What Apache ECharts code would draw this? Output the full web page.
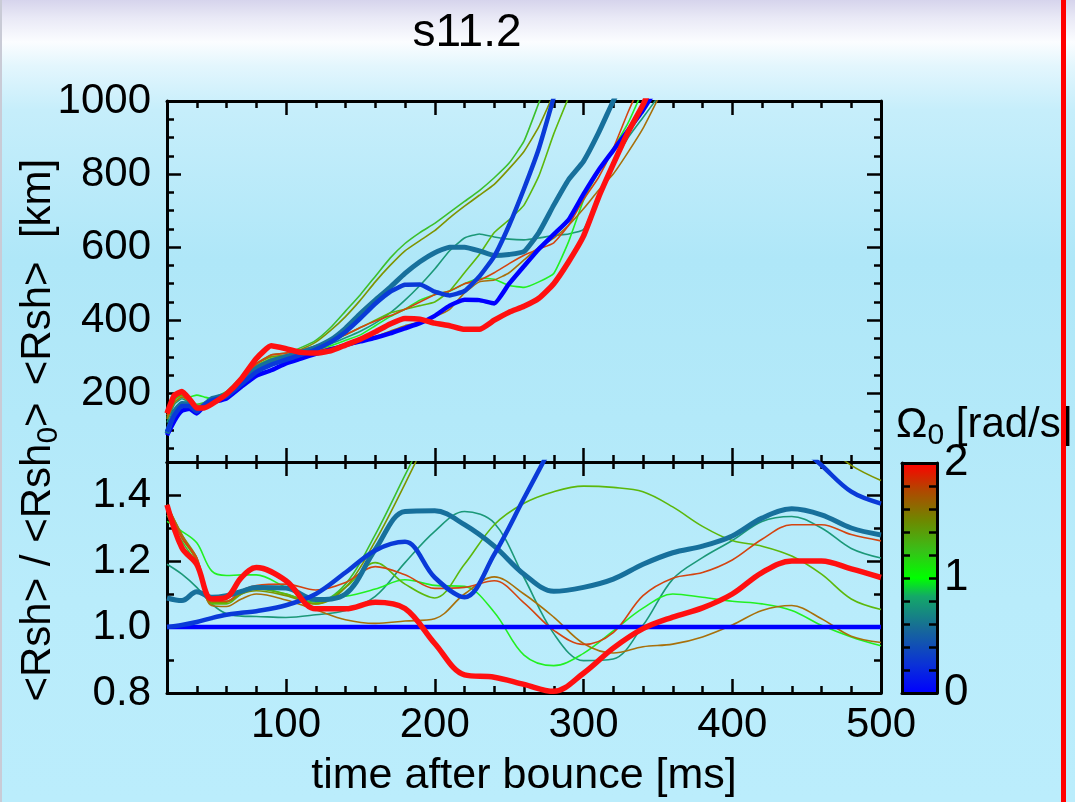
<!DOCTYPE html>
<html><head><meta charset="utf-8">
<script src="https://cdn.jsdelivr.net/npm/echarts@6/dist/echarts.min.js"></script>
<style>
html,body{margin:0;padding:0;}
#c{width:1075px;height:802px;background:linear-gradient(to bottom,#d6d4ec 0px,#e9e9f6 18px,#fbfdff 42px,#e3f6fd 66px,#c6eefb 110px,#afe7f8 260px,#b3e9f9 420px,#b9ecfb 600px,#bbedfc 802px);}
</style></head><body><div id="c"></div>
<script>
// ---------- data ----------
const T_TOP = [20,25,30,35,40,45,50,60,70,80,90,100,110,120,130,140,150,160,170,180,190,200,210,220,230,240,250,260,270,280,290,300,310,320,330,340,350,360];
const RSH_BLUE    = [85,125,152,158,145,165,175,186,218,248,263,282,295,308,320,332,342,352,364,378,392,412,440,456,455,446,500,548,595,635,675,745,810,865,920,975,1040,null];
const RSH_DKBLUE  = [95,140,165,165,150,168,180,192,225,258,278,292,305,320,340,368,405,445,478,497,498,478,468,480,520,575,660,760,870,1010,null,null,null,null,null,null,null,null];
const RSH_TEAL    = [90,150,172,170,155,168,185,196,232,268,288,300,312,326,346,378,418,455,490,528,560,585,600,600,590,577,580,588,640,715,785,835,912,1000,1080,null,null,null];
const RSH_TEALGRN = [120,170,185,175,160,170,182,195,235,275,290,290,305,320,335,352,370,392,420,455,495,540,590,625,636,628,622,620,625,632,636,648,738,828,900,955,1010,null];
const RSH_GREEN   = [130,180,195,190,195,190,185,200,240,280,300,300,310,318,330,345,360,385,410,430,455,470,480,500,515,512,495,490,505,528,615,728,805,870,940,1030,null,null];
const RSH_GREEN2  = [135,185,200,188,170,175,185,205,245,282,305,310,325,345,380,425,470,520,570,610,640,665,695,725,755,790,830,890,995,1100,null,null,null,null,null,null,null,null];
const RSH_YLWGRN  = [140,175,190,180,165,170,180,198,238,275,295,300,310,325,340,360,380,400,420,430,440,450,480,530,580,640,675,715,795,910,1010,null,null,null,null,null,null,null];
const RSH_OLIVE   = [150,185,195,180,162,170,182,200,240,280,300,305,320,340,372,410,455,505,550,590,618,645,680,712,742,772,815,862,930,1020,null,null,null,null,null,null,null,null];
const RSH_BROWN   = [130,175,190,178,160,165,178,195,235,270,290,295,305,315,325,330,340,355,370,385,395,410,430,475,505,510,530,565,600,625,660,705,755,800,860,925,1005,null];
const RSH_ORANGE  = [140,185,200,182,160,165,178,196,238,280,305,310,318,330,345,360,380,398,412,430,450,470,480,500,510,530,555,578,595,612,660,730,790,870,970,1060,null,null];
const RSH_RED     = [145,195,205,185,160,160,170,198,240,295,330,322,312,310,316,332,348,368,390,405,403,392,385,375,375,400,422,438,460,500,560,630,735,827,915,990,1080,null];

const T_BOT = [20,30,40,50,60,70,80,100,120,140,160,180,200,220,240,260,280,300,320,340,360,380,400,420,440,460,480,500];
const RAT_BLUE    = [1,1,1,1,1,1,1,1,1,1,1,1,1,1,1,1,1,1,1,1,1,1,1,1,1,1,1,1];
const RAT_DKBLUE  = [1.0,1.006,1.015,1.027,1.037,1.043,1.048,1.066,1.10,1.165,1.232,1.258,1.15,1.09,1.22,1.39,1.56,null,null,null,null,null,null,null,1.57,1.49,1.41,1.374];
const RAT_TEAL    = [1.088,1.08,1.107,1.09,1.095,1.108,1.12,1.118,1.083,1.10,1.235,1.35,1.352,1.31,1.245,1.16,1.108,1.12,1.145,1.19,1.225,1.245,1.276,1.33,1.358,1.34,1.30,1.279];
const RAT_TEALGRN = [1.19,1.16,1.12,1.07,1.04,1.033,1.032,1.029,1.037,1.05,1.093,1.195,1.29,1.35,1.315,1.15,0.98,0.898,0.903,1.005,1.145,1.21,1.262,1.32,1.335,1.30,1.238,1.209];
const RAT_GREEN   = [1.32,1.29,1.255,1.17,1.156,1.158,1.158,1.12,1.087,1.093,1.115,1.143,1.126,1.123,1.045,0.915,0.883,0.92,0.988,1.057,1.10,1.09,1.078,1.07,1.05,1.005,0.97,0.943];
const RAT_GREEN2  = [1.34,1.26,1.19,1.08,1.078,1.105,1.118,1.10,1.075,1.13,1.28,1.46,1.64,null,null,null,null,null,null,null,null,null,null,null,null,null,null,null];
const RAT_YLWGRN  = [1.36,1.27,1.20,1.07,1.07,1.10,1.115,1.10,1.07,1.12,1.195,1.13,1.088,1.19,1.31,1.375,1.41,1.427,1.423,1.41,1.364,1.305,1.262,1.245,1.215,1.16,1.085,1.053];
const RAT_OLIVE   = [1.37,1.28,1.21,1.075,1.075,1.10,1.11,1.095,1.07,1.12,1.26,1.434,1.62,null,null,null,null,null,null,null,null,null,null,null,null,1.56,1.49,1.444];
const RAT_BROWN   = [1.37,1.28,1.20,1.065,1.062,1.085,1.10,1.082,1.052,1.022,1.011,1.018,1.025,1.10,1.152,1.10,1.03,0.95,0.921,0.94,0.948,0.97,1.006,1.05,1.065,1.025,0.972,0.953];
const RAT_ORANGE  = [1.37,1.27,1.21,1.08,1.078,1.11,1.126,1.13,1.112,1.135,1.183,1.158,1.117,1.12,1.14,1.073,0.99,0.947,0.983,1.095,1.148,1.165,1.203,1.266,1.31,1.31,1.28,1.261];
const RAT_RED     = [1.37,1.24,1.19,1.085,1.09,1.15,1.18,1.14,1.055,1.055,1.075,1.056,0.95,0.855,0.848,0.826,0.805,0.86,0.936,0.995,1.03,1.058,1.10,1.165,1.20,1.20,1.176,1.15];

const X_TICK_LABELS = [100,200,300,400,500];
const Y_TOP_LABELS = [200,400,600,800,1000];
const Y_BOT_LABELS = [0.8,1.0,1.2,1.4];
const CBAR_LABELS = [0,1,2];

// ---------- styling ----------
const REG = "'Liberation Sans',Arial,Helvetica,sans-serif";
const BLACK = '#000';

const LINES = [
  {name:'Ω0=0.8', top:RSH_TEALGRN, bot:RAT_TEALGRN, color:'#1b9878', w:1.6},
  {name:'Ω0=1.0', top:RSH_GREEN,   bot:RAT_GREEN,   color:'#22f022', w:1.6},
  {name:'Ω0=1.1', top:RSH_GREEN2,  bot:RAT_GREEN2,  color:'#3cbf2c', w:1.6},
  {name:'Ω0=1.2', top:RSH_YLWGRN,  bot:RAT_YLWGRN,  color:'#5cb80c', w:1.6},
  {name:'Ω0=1.4', top:RSH_OLIVE,   bot:RAT_OLIVE,   color:'#7f9400', w:1.6},
  {name:'Ω0=1.6', top:RSH_BROWN,   bot:RAT_BROWN,   color:'#a8700a', w:1.6},
  {name:'Ω0=1.8', top:RSH_ORANGE,  bot:RAT_ORANGE,  color:'#d44410', w:1.6},
  {name:'Ω0=0',   top:RSH_BLUE,    bot:RAT_BLUE,    color:'#0000ff', w:4.5},
  {name:'Ω0=0.5', top:RSH_TEAL,    bot:RAT_TEAL,    color:'#17709c', w:5},
  {name:'Ω0=0.1', top:RSH_DKBLUE,  bot:RAT_DKBLUE,  color:'#0a3ad8', w:4.5},
  {name:'Ω0=2.0', top:RSH_RED,     bot:RAT_RED,     color:'#ff1010', w:5.5}
];

const pairs = (T, V) => T.map((t, i) => [t, V[i]]);

const X_CATS = []; for (let v = 20; v <= 500; v += 20) X_CATS.push(String(v));
const Y_TOP_CATS = []; for (let v = 12; v <= 1000; v += 2) Y_TOP_CATS.push(String(v));

const lineStyleAxis = {lineStyle:{color:BLACK, width:3}};
const noLine = {show:false};
const tick = (len) => ({show:true, inside:true, length:len, lineStyle:{color:BLACK, width:2.5}});

function xVal(grid, pos){
  return {type:'value', gridIndex:grid, position:pos, min:20, max:500, interval:20,
    axisLine:Object.assign({show:true, onZero:false}, lineStyleAxis), axisTick:tick(7),
    axisLabel:{show:false}, splitLine:{show:false}};
}
function xCat(grid, pos, labels){
  return {type:'category', gridIndex:grid, position:pos, data:X_CATS, boundaryGap:false,
    axisLine:noLine,
    axisTick:Object.assign(tick(14), {interval:(i, v) => X_TICK_LABELS.indexOf(+v) >= 0}),
    axisLabel:{show:labels, interval:(i, v) => X_TICK_LABELS.indexOf(+v) >= 0,
      fontFamily:REG, fontSize:42, color:BLACK, margin:11},
    splitLine:{show:false}};
}
function yTopCat(pos, major, labels){
  return {type:'category', gridIndex:0, position:pos, data:Y_TOP_CATS, boundaryGap:false,
    axisLine:noLine,
    axisTick:Object.assign(tick(major ? 14 : 7), {interval:(i, v) => major ? (+v % 200 === 0) : (+v % 50 === 0)}),
    axisLabel:{show:labels, interval:(i, v) => Y_TOP_LABELS.indexOf(+v) >= 0,
      fontFamily:REG, fontSize:42, color:BLACK, margin:16},
    splitLine:{show:false}};
}
function yBot(pos, major, labels){
  return {type:'value', gridIndex:1, position:pos, min:0.8, max:1.5, interval: major ? 0.2 : 0.1,
    axisLine: major ? noLine : Object.assign({show:true, onZero:false}, lineStyleAxis),
    axisTick: tick(major ? 14 : 7),
    axisLabel:{show:labels, fontFamily:REG, fontSize:42, color:BLACK, margin:16,
      formatter:(v) => Y_BOT_LABELS.some(l => Math.abs(l - v) < 1e-6) ? v.toFixed(1) : ''},
    splitLine:{show:false}};
}

const xAxes = [
  xVal(0,'bottom'), xVal(0,'top'), xCat(0,'bottom',false), xCat(0,'top',false),
  xVal(1,'bottom'), xVal(1,'top'), xCat(1,'bottom',true), xCat(1,'top',false),
  {type:'value', gridIndex:2, position:'bottom', min:0, max:1, axisLine:Object.assign({show:true,onZero:false}, lineStyleAxis), axisTick:{show:false}, axisLabel:{show:false}, splitLine:{show:false}, z:10},
  {type:'value', gridIndex:2, position:'top', min:0, max:1, axisLine:Object.assign({show:true,onZero:false}, lineStyleAxis), axisTick:{show:false}, axisLabel:{show:false}, splitLine:{show:false}, z:10}
];
const yAxes = [
  {type:'value', gridIndex:0, position:'left', min:12, max:1000, axisLine:Object.assign({show:true,onZero:false}, lineStyleAxis), axisTick:{show:false}, axisLabel:{show:false}, splitLine:{show:false}},
  {type:'value', gridIndex:0, position:'right', min:12, max:1000, axisLine:Object.assign({show:true,onZero:false}, lineStyleAxis), axisTick:{show:false}, axisLabel:{show:false}, splitLine:{show:false}},
  yTopCat('left', true, true), yTopCat('left', false, false), yTopCat('right', true, false), yTopCat('right', false, false),
  yBot('left', false, false), yBot('right', false, false), yBot('left', true, true), yBot('right', true, false),
  {type:'value', gridIndex:2, position:'left', min:0, max:2, interval:0.2, z:10,
    axisLine:Object.assign({show:true,onZero:false}, lineStyleAxis), axisTick:tick(8), axisLabel:{show:false}, splitLine:{show:false}},
  {type:'value', gridIndex:2, position:'right', min:0, max:2, interval:0.2, z:10,
    axisLine:Object.assign({show:true,onZero:false}, lineStyleAxis), axisTick:tick(8),
    axisLabel:{show:true, fontFamily:REG, fontSize:44, color:BLACK, margin:7,
      formatter:(v) => CBAR_LABELS.some(l => Math.abs(l - v) < 1e-6) ? String(Math.round(v)) : ''},
    splitLine:{show:false}}
];

const series = [];
LINES.forEach(L => {
  series.push({type:'line', name:L.name, xAxisIndex:0, yAxisIndex:0, data:pairs(T_TOP, L.top),
    showSymbol:false, smooth:0.15, clip:true, lineStyle:{color:L.color, width:L.w}, itemStyle:{color:L.color}, silent:true});
  series.push({type:'line', name:L.name, xAxisIndex:4, yAxisIndex:6, data:pairs(T_BOT, L.bot),
    showSymbol:false, smooth:0.35, clip:true, lineStyle:{color:L.color, width:L.w}, itemStyle:{color:L.color}, silent:true});
});

const rich = {
  a:{fontFamily:REG, fontSize:42, color:BLACK, lineHeight:52, verticalAlign:'middle'},
  s:{fontFamily:REG, fontSize:30, color:BLACK, lineHeight:30, verticalAlign:'bottom'}
};

const option = {
  animation:false,
  backgroundColor:'transparent',
  grid:[
    {left:167, top:101, width:714, height:361},
    {left:167, top:462, width:714, height:231},
    {left:902, top:463, width:35, height:230}
  ],
  xAxis:xAxes,
  yAxis:yAxes,
  series:series,
  graphic:[
    {type:'rect', shape:{x:902, y:463, width:35, height:230}, z:1,
      style:{fill:new echarts.graphic.LinearGradient(0,1,0,0,[
        {offset:0, color:'#0000ff'},{offset:0.12, color:'#0a30d8'},{offset:0.28, color:'#176a98'},
        {offset:0.42, color:'#14a868'},{offset:0.5, color:'#00ff00'},{offset:0.62, color:'#38c018'},
        {offset:0.75, color:'#6e8800'},{offset:0.88, color:'#b04800'},{offset:1, color:'#ff0000'}])}},
    {type:'text', x:467, y:33, z:5, style:{text:'s11.2', fontFamily:REG, fontSize:46, fill:BLACK, align:'center', verticalAlign:'middle'}},
    {type:'text', x:524, y:776, z:5, style:{text:'time after bounce [ms]', fontFamily:REG, fontSize:43, fill:BLACK, align:'center', verticalAlign:'middle'}},
    {type:'text', x:38, y:272, rotation:Math.PI/2, z:5, style:{text:'{a|<Rsh>  [km]}', rich:rich, align:'center', verticalAlign:'middle'}},
    {type:'text', x:38, y:552, rotation:Math.PI/2, z:5, style:{text:'{a|<Rsh> / <Rsh}{s|0}{a|>}', rich:rich, align:'center', verticalAlign:'middle'}},
    {type:'text', x:896, y:425, z:5, style:{text:'{a|Ω}{s|0}{a| [rad/s]}', rich:rich, align:'left', verticalAlign:'middle'}},
    {type:'rect', shape:{x:1061, y:0, width:5, height:802}, z:100, style:{fill:'#ff0000'}},
    {type:'rect', shape:{x:0, y:0, width:2, height:802}, z:100, style:{fill:'#c9cbd6'}}
  ]
};

const chart = echarts.init(document.getElementById('c'), null, {renderer:'canvas'});
chart.setOption(option);
</script></body></html>
